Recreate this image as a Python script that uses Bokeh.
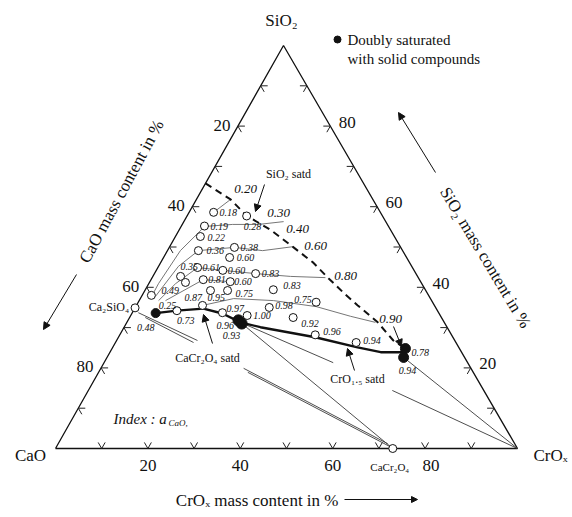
import math
import numpy as np
from bokeh.plotting import figure
from bokeh.models import Range1d, Arrow, NormalHead, ColumnDataSource
from bokeh.core.properties import value
from bokeh.embed import file_html
from bokeh.resources import INLINE

SERIF = "Liberation Serif"

# ------------------------------------------------------------------
# Compositions in mass %: SiO2 and CrOx are given, CaO = 100 - SiO2 - CrOx
# ------------------------------------------------------------------

# liquid slags (open circles) and their measured CaO activity
liq_sio2 = [58.6, 57.7, 55.2, 52.6, 49.1, 49.9, 47.4, 44.9, 42.7, 41.2, 38.0,
            44.2, 43.4, 41.9, 41.4, 39.2, 39.2, 35.5, 34.2, 33.7,
            33.0, 35.0, 32.5, 28.2, 26.3, 39.4, 36.3]
liq_crox = [5.3, 12.9, 5.0, 5.4, 6.7, 14.1, 14.3, 8.6, 6.0, 7.8, 2.0,
            14.4, 21.9, 11.3, 17.4, 14.2, 17.9, 14.3, 9.4, 19.5,
            25.2, 29.0, 35.4, 42.3, 52.1, 27.7, 38.5]
liq_acao = ["0.18", "0.28", "0.19", "0.22", "0.36", "0.38", "0.60", "0.61", "0.35", "", "0.49",
            "0.60", "0.83", "0.81", "0.60", "0.87", "0.75", "0.95", "0.73", "0.97",
            "1.00", "0.98", "0.92", "0.96", "0.94", "0.83", "0.75"]

# slags doubly saturated with solid compounds (filled dots)
dsat_sio2 = [33.6, 31.8, 31.0, 24.8, 22.6]
dsat_crox = [5.1, 23.9, 25.0, 63.5, 64.2]
dsat_acao = ["0.25", "0.96", "0.93", "0.78", "0.94"]

# solid compounds
cmp_name = ["Ca\u2082SiO\u2084", "CaCr\u2082O\u2084"]
cmp_sio2 = [34.9, 0.0]
cmp_crox = [0.0, 73.0]
cmp_acao = ["0.48", ""]

# SiO2 saturation boundary (dashed) and the a_CaO values written along it
sat_sio2_sio2 = [65.8, 61.8, 57.8, 54.3, 49.9, 46.2, 42.2, 38.2, 35.5, 31.3, 26.8, 24.8]
sat_sio2_crox = [0.0, 7.4, 12.8, 19.7, 26.9, 32.9, 38.3, 43.9, 47.9, 54.3, 59.9, 63.5]
sat_sio2_acao = ["0.20", "0.30", "0.40", "0.60", "0.80", "0.90"]

# CaCr2O4 and CrO1.5 saturation boundaries (heavy lines)
sat_cc_sio2 = [33.6, 34.2, 34.7, 33.5, 31.3]
sat_cc_crox = [5.1, 9.4, 14.9, 19.6, 24.6]
sat_cr_sio2 = [31.3, 30.1, 27.6, 25.1, 23.9, 23.9]
sat_cr_crox = [24.6, 29.5, 42.6, 53.0, 58.6, 63.5]

# iso-activity curves (thin lines)
iso_a_sio2 = [58.6, 61.8]
iso_a_crox = [5.3, 7.4]
iso_b_sio2 = [37.2, 40.9, 49.1, 55.1, 55.6, 55.6, 56.3]
iso_b_crox = [2.2, 2.1, 2.8, 5.1, 10.9, 16.5, 21.6]
iso_c_sio2 = [37.7, 45.2, 49.1, 49.9, 49.1, 50.1]
iso_c_crox = [3.0, 4.3, 6.7, 14.1, 20.6, 26.8]
iso_d_sio2 = [36.7, 40.9, 44.9, 44.2, 43.4, 42.7, 42.4]
iso_d_crox = [4.2, 5.8, 8.6, 14.4, 21.9, 29.8, 37.5]
iso_e_sio2 = [36.7, 41.9, 41.4]
iso_e_crox = [5.7, 11.3, 17.4]
iso_f_sio2 = [35.5, 37.2, 36.7, 35.2, 32.8, 31.3]
iso_f_crox = [14.3, 20.2, 29.1, 39.1, 47.7, 53.8]

# tie lines towards the solid phases (start, end)
tie_sio2 = [[33.7, 26.8], [32.5, 26.3], [19.9, 1.2], [18.9, 0.5],
            [31.3, 0.0], [31.3, 21.3], [14.4, 0.0], [22.6, 0.0]]
tie_crox = [[1.3, 17.5], [3.4, 16.9], [30.9, 71.3], [32.3, 72.1],
            [24.6, 73.0], [24.6, 49.6], [65.8, 100.0], [64.2, 100.0]]

# axis graduations
grad_values = [10, 20, 30, 40, 50, 60, 70, 80, 90]
grad_labels = ["20", "40", "60", "80"]

# ------------------------------------------------------------------
# layout: triangle corners in page pixels and label offsets
# ------------------------------------------------------------------
V_CAO = np.array([55.0, 448.0])
V_SIO2 = np.array([283.0, 45.0])
V_CROX = np.array([517.0, 448.0])

liq_dx = [6, -3, 6, 7, 8, 6, 7, 5, 0, 0, 10, 5, 6, 5, 4, -26, 8, 5, 0, 4, 6, 6, 8, 8, 7, 10, -22]
liq_dy = [0, 11, 0, 1, 0, 0, 0, 0, -10, 0, -5, 0, 0, 0, 0, 7, 3, -8, 10, -4, 0, -2, 6, -3, -2, -4, -3]
dsat_dx = [3, -22, -19, 6, -5]
dsat_dy = [-8, 5, 12, 4, 13]
sat_label_xy = [(245, 188), (278, 212), (297, 228), (315, 245), (345, 275), (390, 318)]


def proj(sio2, crox):
    s = np.asarray(sio2, dtype=float) / 100.0
    c = np.asarray(crox, dtype=float) / 100.0
    a = 1.0 - s - c
    x = a * V_CAO[0] + s * V_SIO2[0] + c * V_CROX[0]
    y = a * V_CAO[1] + s * V_SIO2[1] + c * V_CROX[1]
    return x, y


def unit(v):
    return v / np.hypot(*v)


p = figure(width=572, height=517, x_range=Range1d(0, 572), y_range=Range1d(517, 0),
           output_backend="svg", toolbar_location=None, min_border=0,
           x_axis_location=None, y_axis_location=None)
p.xgrid.visible = False
p.ygrid.visible = False
p.outline_line_color = None
p.background_fill_color = "white"

INK = "#111111"


def txt(x, y, s, size, align="center", baseline="middle", style="normal", angle=0.0):
    p.text(x=[x], y=[y], text=[s], text_font=value(SERIF), text_font_size=size,
           text_align=align, text_baseline=baseline, text_font_style=style,
           angle=angle, text_color=INK)


def arrow(xs, ys, xe, ye, size=7):
    p.add_layout(Arrow(end=NormalHead(size=size, fill_color=INK, line_color=INK),
                       x_start=xs, y_start=ys, x_end=xe, y_end=ye,
                       line_width=1, line_color=INK))


# triangle frame
tx, ty = proj([0, 100, 0, 0], [0, 0, 100, 0])
p.line(tx, ty, line_color=INK, line_width=1.3)

# graduation chevrons on the three sides
L = 7.0
d_left = unit(V_SIO2 - V_CAO)       # up along left side
d_right = unit(V_SIO2 - V_CROX)     # up along right side
x0, y0, x1, y1 = [], [], [], []
for g in grad_values:
    bx, by = proj(0, g)
    lx, ly = proj(g, 0)
    rx, ry = proj(g, 100 - g)
    for (px, py), arms in (((bx, by), (d_left, d_right)),
                           ((lx, ly), (np.array([1.0, 0.0]), -d_right)),
                           ((rx, ry), (np.array([-1.0, 0.0]), -d_left))):
        for d in arms:
            x0.append(float(px)); y0.append(float(py))
            x1.append(float(px + L * d[0])); y1.append(float(py + L * d[1]))
p.segment(x0, y0, x1, y1, line_color="#222222", line_width=1)

# side numbers
for lab in grad_labels:
    g = float(lab)
    bx, by = proj(0, g)
    txt(float(bx) + (6 if g == 80 else 0), float(by) + 17, lab, "17px")
    lx, ly = proj(100 - g, 0)
    txt(float(lx) - 16, float(ly) - 1, lab, "17px")
    rx, ry = proj(g, 100 - g)
    txt(float(rx) + 17, float(ry) - 4, lab, "17px")

# corner names
txt(281, 20, "SiO\u2082", "17px")
txt(30, 455, "CaO", "17px")
txt(550, 455, "CrO\u2093", "17px")

# axis titles with direction arrows
txt(121, 191, "CaO mass content in %", "17px", angle=math.atan2(158, 85))
arrow(76, 274, 43, 329)
txt(485, 257, "SiO\u2082 mass content in %", "17px", angle=-math.atan2(160, 96))
arrow(435, 172, 398, 112)
txt(338, 500, "CrO\u2093 mass content in %", "17px", align="right")
arrow(344, 499, 417, 499, size=6)

# iso-activity curves
for s_list, c_list in ((iso_a_sio2, iso_a_crox), (iso_b_sio2, iso_b_crox),
                       (iso_c_sio2, iso_c_crox), (iso_d_sio2, iso_d_crox),
                       (iso_e_sio2, iso_e_crox), (iso_f_sio2, iso_f_crox)):
    xs, ys = proj(s_list, c_list)
    p.line(xs, ys, line_color="#666666", line_width=0.9)

# tie lines
for s_pair, c_pair in zip(tie_sio2, tie_crox):
    xs, ys = proj(s_pair, c_pair)
    p.line(xs, ys, line_color="#3a3a3a", line_width=0.9)

# saturation boundaries
xs, ys = proj(sat_sio2_sio2, sat_sio2_crox)
p.line(xs, ys, line_color=INK, line_width=2, line_dash="7 5")
xs, ys = proj(sat_cc_sio2, sat_cc_crox)
p.line(xs, ys, line_color=INK, line_width=2.4)
xs, ys = proj(sat_cr_sio2, sat_cr_crox)
p.line(xs, ys, line_color=INK, line_width=2.4)

# liquid compositions
lx_, ly_ = proj(liq_sio2, liq_crox)
p.scatter(lx_, ly_, size=8, marker="circle", fill_color="white", line_color=INK, line_width=1)
src = ColumnDataSource(dict(x=lx_ + np.array(liq_dx), y=ly_ + np.array(liq_dy), t=liq_acao))
p.text(x="x", y="y", text="t", source=src, text_font=value(SERIF), text_font_size="10px",
       text_font_style="italic", text_align="left", text_baseline="middle", text_color=INK)

# compounds
cx_, cy_ = proj(cmp_sio2, cmp_crox)
p.scatter(cx_, cy_, size=8, marker="circle", fill_color="white", line_color=INK, line_width=1)
txt(float(cx_[0]) - 6, float(cy_[0]) - 1, cmp_name[0], "12px", align="right")
txt(float(cx_[0]) + 2, float(cy_[0]) + 20, cmp_acao[0], "10px", align="left", style="italic")
txt(float(cx_[1]) - 3, float(cy_[1]) + 18, cmp_name[1], "11px")

# doubly saturated points
dx_, dy_ = proj(dsat_sio2, dsat_crox)
p.scatter(dx_, dy_, size=[9, 11, 11, 10, 10], marker="circle", fill_color=INK, line_color=INK)
src2 = ColumnDataSource(dict(x=dx_ + np.array(dsat_dx), y=dy_ + np.array(dsat_dy), t=dsat_acao))
p.text(x="x", y="y", text="t", source=src2, text_font=value(SERIF), text_font_size="10px",
       text_font_style="italic", text_align="left", text_baseline="middle", text_color=INK)

# a_CaO values along the SiO2 boundary
for lab, (lxp, lyp) in zip(sat_sio2_acao, sat_label_xy):
    txt(lxp, lyp, lab, "13px", style="italic")

# phase annotations
txt(288, 173, "SiO\u2082 satd", "12px")
arrow(264, 184, 255, 211)
txt(207, 357, "CaCr\u2082O\u2084 satd", "12px")
arrow(212, 343, 203, 314)
txt(357, 378, "CrO\u2081.\u2085 satd", "12px")
arrow(354, 370, 347, 348)
arrow(393, 326, 401, 346)

# index note
txt(113, 418, "Index : a", "15px", align="left", style="italic")
txt(168, 422, "CaO,", "9px", align="left", style="italic")

# legend
p.scatter([337], [39], size=7, marker="circle", fill_color=INK, line_color=INK)
txt(347, 39, "Doubly saturated", "15px", align="left")
txt(347, 58, "with solid compounds", "15px", align="left")

open("out.html", "w").write(file_html(p, INLINE))
